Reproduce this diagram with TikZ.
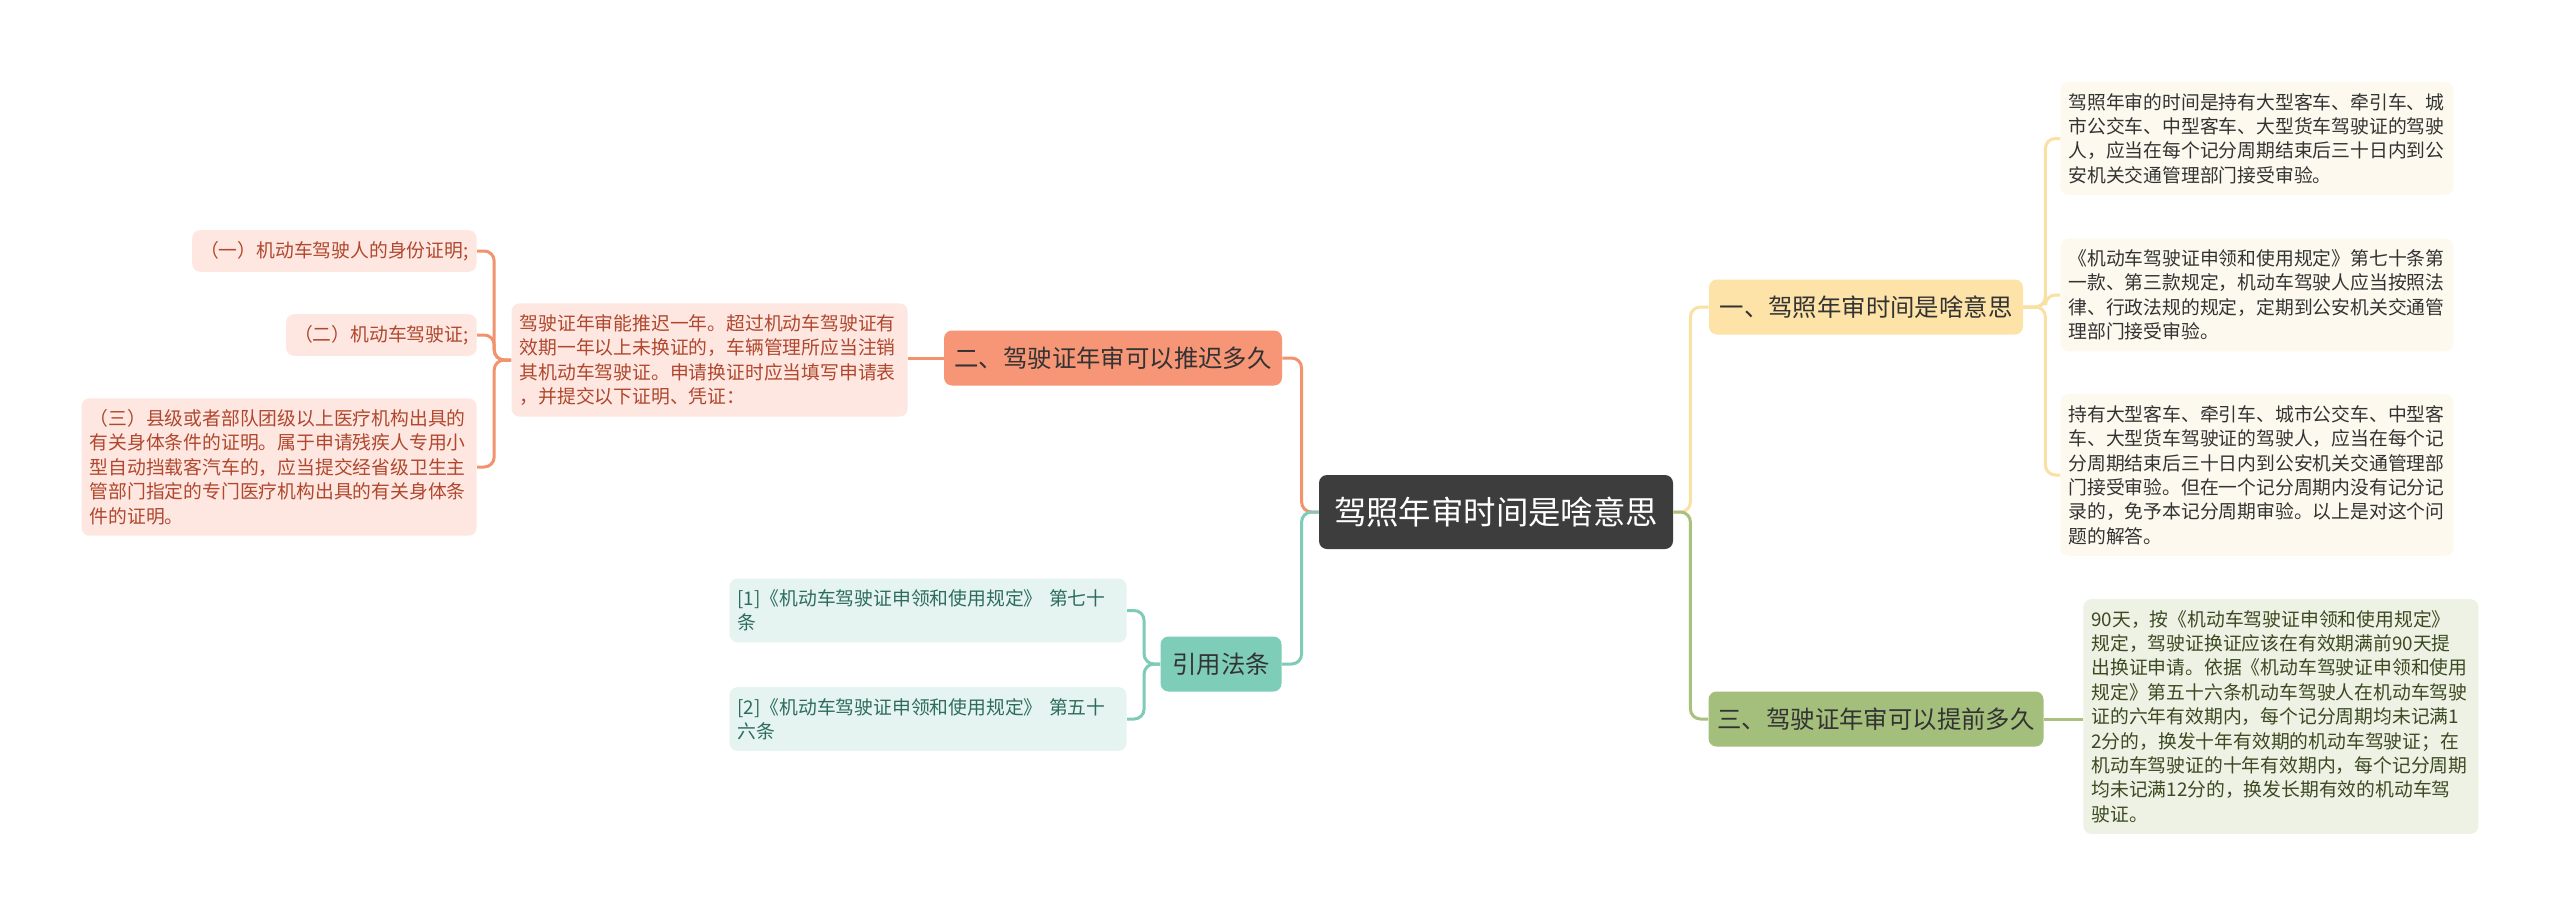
\documentclass[tikz,border=0pt]{standalone}
\usepackage{fontspec}
\setmainfont{Noto Sans CJK SC}
\usepackage{tikz}
\usetikzlibrary{positioning}
\definecolor{rootgray}{HTML}{3D3D3D}
\definecolor{yelfill}{HTML}{FDE3A7}
\definecolor{yelline}{HTML}{F9E0A3}
\definecolor{yelleaf}{HTML}{FDF9EE}
\definecolor{grnfill}{HTML}{A4BE7B}
\definecolor{grnline}{HTML}{A9C07F}
\definecolor{grnleaf}{HTML}{EEF2E4}
\definecolor{grntext}{HTML}{3B4A22}
\definecolor{orgfill}{HTML}{F79676}
\definecolor{orgline}{HTML}{F2936E}
\definecolor{orgleaf}{HTML}{FDE7E0}
\definecolor{orgtext}{HTML}{B0472E}
\definecolor{tealfill}{HTML}{7ECDB8}
\definecolor{tealline}{HTML}{7FCBB7}
\definecolor{tealleaf}{HTML}{E5F4F0}
\definecolor{tealtext}{HTML}{2D6C5C}

\begin{document}
\begin{tikzpicture}[x=0.5pt,y=-0.5pt,
  rootbox/.style={fill=rootgray, text=white, rounded corners=4pt, minimum width=177pt, minimum height=37pt, font=\fontsize{16.2}{20}\selectfont},
  branch/.style={rounded corners=4pt, minimum height=27.5pt, text=black!80, font=\fontsize{12.2}{15}\selectfont},
  leaf/.style={rounded corners=4pt, inner xsep=4pt, inner ysep=5.5pt, align=left, font=\fontsize{9.4}{12.2}\selectfont},
  conn/.style={line width=1.5pt, rounded corners=5pt}]
\fill[white] (0,0) rectangle (2560,916);
\useasboundingbox (0,0) rectangle (2560,916);

% centre
\node[rootbox] (root) at (1496,512) {驾照年审时间是啥意思};

% right side
\node[branch, fill=yelfill, minimum width=157pt] (b1) at (1866,307) {一、驾照年审时间是啥意思};
\node[branch, fill=grnfill, minimum width=167.5pt] (b3) at (1876,719) {三、驾驶证年审可以提前多久};

\node[leaf, fill=yelleaf, text=black!80, text width=188.5pt, anchor=west] (l1a) at (2060,138.5) {驾照年审的时间是持有大型客车、牵引车、城\\市公交车、中型客车、大型货车驾驶证的驾驶\\人，应当在每个记分周期结束后三十日内到公\\安机关交通管理部门接受审验。};
\node[leaf, fill=yelleaf, text=black!80, text width=188.5pt, anchor=west] (l1b) at (2060,295) {《机动车驾驶证申领和使用规定》第七十条第\\一款、第三款规定，机动车驾驶人应当按照法\\律、行政法规的规定，定期到公安机关交通管\\理部门接受审验。};
\node[leaf, fill=yelleaf, text=black!80, text width=188.5pt, anchor=west] (l1c) at (2060,475) {持有大型客车、牵引车、城市公交车、中型客\\车、大型货车驾驶证的驾驶人，应当在每个记\\分周期结束后三十日内到公安机关交通管理部\\门接受审验。但在一个记分周期内没有记分记\\录的，免予本记分周期审验。以上是对这个问\\题的解答。};
\node[leaf, fill=grnleaf, text=grntext, text width=189.5pt, anchor=west] (l3) at (2083,716.5) {90天，按《机动车驾驶证申领和使用规定》\\规定，驾驶证换证应该在有效期满前90天提\\出换证申请。依据《机动车驾驶证申领和使用\\规定》第五十六条机动车驾驶人在机动车驾驶\\证的六年有效期内，每个记分周期均未记满1\\2分的，换发十年有效期的机动车驾驶证；在\\机动车驾驶证的十年有效期内，每个记分周期\\均未记满12分的，换发长期有效的机动车驾\\驶证。};

% left side
\node[branch, fill=orgfill, minimum width=169pt] (b2) at (1113,358) {二、驾驶证年审可以推迟多久};
\node[branch, fill=tealfill, minimum width=60.5pt] (cite) at (1221,664) {引用法条};

\node[leaf, fill=orgleaf, text=orgtext, text width=190pt, anchor=east] (t2) at (908,360) {驾驶证年审能推迟一年。超过机动车驾驶证有\\效期一年以上未换证的，车辆管理所应当注销\\其机动车驾驶证。申请换证时应当填写申请表\\，并提交以下证明、凭证：};
\node[leaf, fill=orgleaf, text=orgtext, anchor=east] (s1) at (477,251) {（一）机动车驾驶人的身份证明;};
\node[leaf, fill=orgleaf, text=orgtext, anchor=east] (s2) at (477,335) {（二）机动车驾驶证;};
\node[leaf, fill=orgleaf, text=orgtext, text width=189.5pt, anchor=east] (s3) at (477,467) {（三）县级或者部队团级以上医疗机构出具的\\有关身体条件的证明。属于申请残疾人专用小\\型自动挡载客汽车的，应当提交经省级卫生主\\管部门指定的专门医疗机构出具的有关身体条\\件的证明。};

\node[leaf, fill=tealleaf, text=tealtext, text width=190.5pt, anchor=east] (r1) at (1127,610.5) {[1]《机动车驾驶证申领和使用规定》 第七十\\条};
\node[leaf, fill=tealleaf, text=tealtext, text width=190.5pt, anchor=east] (r2) at (1127,719) {[2]《机动车驾驶证申领和使用规定》 第五十\\六条};

% connectors
\draw[conn, yelline] (root.east) -- ++(17,0) |- (b1.west);
\draw[conn, grnline] (root.east) -- ++(17,0) |- (b3.west);
\draw[conn, orgline] (root.west) -- ++(-17,0) |- (b2.east);
\draw[conn, tealline] (root.west) -- ++(-17,0) |- (cite.east);
\foreach \n in {l1a,l1b,l1c}
  \draw[conn, yelline] (b1.east) -- ++(22,0) |- (\n.west);
\draw[conn, grnline] (b3.east) -- (b3.east -| l3.west);
\draw[conn, orgline] (b2.west) -- (b2.west -| t2.east);
\foreach \n in {s1,s2,s3}
  \draw[conn, orgline] (t2.west) -- ++(-17,0) |- (\n.east);
\foreach \n in {r1,r2}
  \draw[conn, tealline] (cite.west) -- ++(-16,0) |- (\n.east);
\end{tikzpicture}
\end{document}
